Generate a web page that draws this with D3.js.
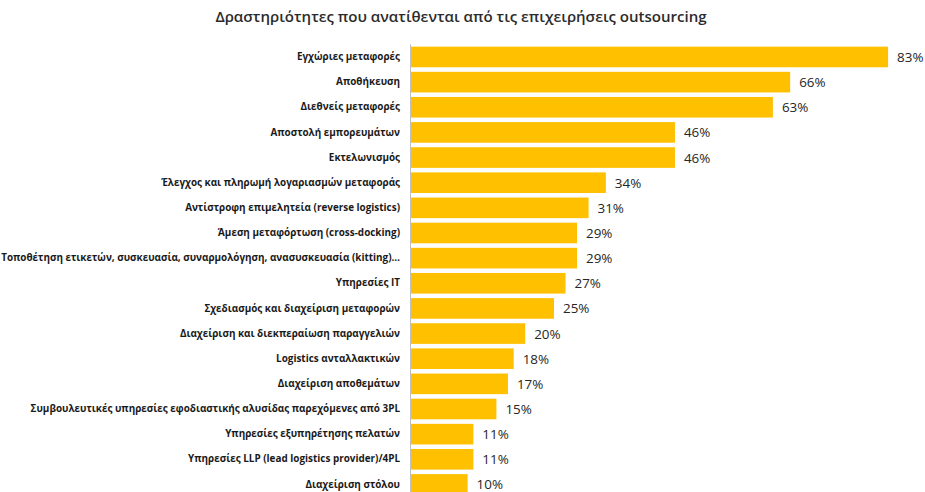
<!DOCTYPE html>
<html>
<head>
<meta charset="utf-8">
<script src="https://cdn.jsdelivr.net/npm/d3@7/dist/d3.min.js"></script>
<style>
  html, body { margin: 0; padding: 0; background: #fff; }
  svg { display: block; }
</style>
</head>
<body>
<div id="chart"></div>
<script>
// Activities outsourced by companies (share of respondents, %)
const categories = [
  "Εγχώριες μεταφορές",
  "Αποθήκευση",
  "Διεθνείς μεταφορές",
  "Αποστολή εμπορευμάτων",
  "Εκτελωνισμός",
  "Έλεγχος και πληρωμή λογαριασμών μεταφοράς",
  "Αντίστροφη επιμελητεία (reverse logistics)",
  "Άμεση μεταφόρτωση (cross-docking)",
  "Τοποθέτηση ετικετών, συσκευασία, συναρμολόγηση, ανασυσκευασία (kitting)…",
  "Υπηρεσίες IT",
  "Σχεδιασμός και διαχείριση μεταφορών",
  "Διαχείριση και διεκπεραίωση παραγγελιών",
  "Logistics ανταλλακτικών",
  "Διαχείριση αποθεμάτων",
  "Συμβουλευτικές υπηρεσίες εφοδιαστικής αλυσίδας παρεχόμενες από 3PL",
  "Υπηρεσίες εξυπηρέτησης πελατών",
  "Υπηρεσίες LLP (lead logistics provider)/4PL",
  "Διαχείριση στόλου"
];
const values = [83, 66, 63, 46, 46, 34, 31, 29, 29, 27, 25, 20, 18, 17, 15, 11, 11, 10];
const title = "Δραστηριότητες που ανατίθενται από τις επιχειρήσεις outsourcing";

const W = 925, H = 492;
const x0 = 410;

const svg = d3.select("#chart").append("svg")
  .attr("width", W).attr("height", H);

const x = d3.scaleLinear().domain([0, 100]).range([x0, x0 + 576]);
const y = d3.scaleBand().domain(categories)
  .range([44.4, 497]).paddingInner(0.18).paddingOuter(0.09);

// title, sized to span its usual width
const titleText = svg.append("text")
  .attr("x", 461).attr("y", 22)
  .attr("text-anchor", "middle")
  .attr("font-family", "'Open Sans', sans-serif")
  .attr("font-weight", 600)
  .attr("font-size", 14)
  .attr("fill", "#2b2b2b")
  .text(title);
const tw = titleText.node().getComputedTextLength();
titleText.attr("font-size", 14 * 492 / tw);

// bars
svg.append("g").selectAll("rect")
  .data(values)
  .join("rect")
  .attr("x", x(0) + 1)
  .attr("y", (d, i) => y(categories[i]))
  .attr("width", d => x(d) - x(0) - 1)
  .attr("height", y.bandwidth())
  .attr("fill", "#FFC000");

// value labels
svg.append("g").selectAll("text")
  .data(values)
  .join("text")
  .attr("x", d => x(d) + 9)
  .attr("y", (d, i) => y(categories[i]) + y.bandwidth() / 2)
  .attr("dy", "0.37em")
  .attr("font-family", "'Open Sans', sans-serif")
  .attr("font-size", 13.4)
  .attr("fill", "#262626")
  .text(d => d + "%");

// category axis
const axis = d3.axisLeft(y).tickSize(0).tickPadding(10);
const gAxis = svg.append("g")
  .attr("transform", `translate(${x0},0)`)
  .call(axis);
gAxis.select(".domain").attr("stroke", "#bfbfbf").attr("stroke-width", 1)
  .attr("d", `M0.5,44.4V${H}`);
const ticks = gAxis.selectAll(".tick text")
  .attr("font-family", "'Open Sans', sans-serif")
  .attr("font-weight", "bold")
  .attr("font-size", 10)
  .attr("fill", "#1a1a1a");
// scale category labels so the longest one fills the left margin
const maxW = d3.max(ticks.nodes(), n => n.getComputedTextLength());
ticks.attr("font-size", 10 * 399 / maxW);
</script>
</body>
</html>
